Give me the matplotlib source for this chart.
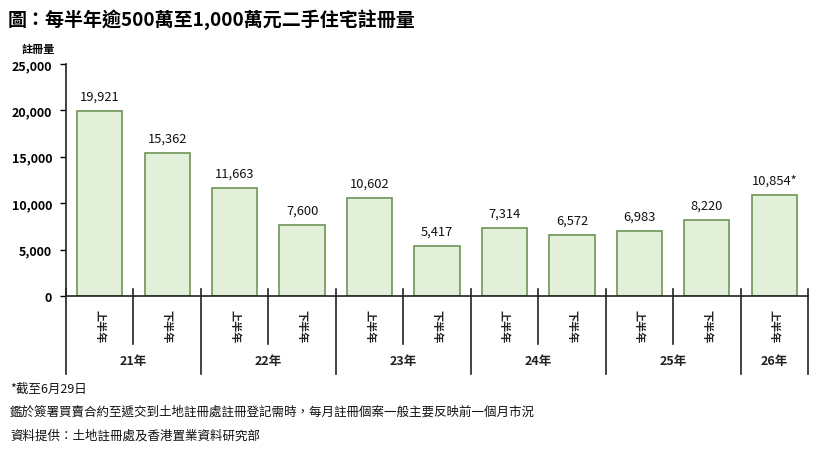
import matplotlib
matplotlib.use("Agg")
import matplotlib.pyplot as plt
import numpy as np

plt.rcParams['font.family'] = ['Noto Sans CJK TC', 'DejaVu Sans']

# data
halves = ['上半年', '下半年', '上半年', '下半年', '上半年', '下半年',
          '上半年', '下半年', '上半年', '下半年', '上半年']
years = ['21年', '22年', '23年', '24年', '25年', '26年']
values = [19921, 15362, 11663, 7600, 10602, 5417, 7314, 6572, 6983, 8220, 10854]
value_labels = ['19,921', '15,362', '11,663', '7,600', '10,602', '5,417',
                '7,314', '6,572', '6,983', '8,220', '10,854*']
yticks = [0, 5000, 10000, 15000, 20000, 25000]

title = '圖：每半年逾500萬至1,000萬元二手住宅註冊量'
notes = ['*截至6月29日',
         '鑑於簽署買賣合約至遞交到土地註冊處註冊登記需時，每月註冊個案一般主要反映前一個月市況',
         '資料提供：土地註冊處及香港置業資料研究部']

fig = plt.figure(figsize=(8.16, 4.52), dpi=100)
ax = fig.add_axes([66 / 816, 1 - 297 / 452, 742 / 816, 232 / 452])

x = np.arange(len(values))
ax.bar(x, values, width=0.67, color='#E2EFD9', edgecolor='#6E9457', linewidth=1.2)
for xi, v, lab in zip(x, values, value_labels):
    ax.text(xi, v + 900, lab, ha='center', va='bottom', fontsize=9.3,
            fontweight='medium', color='#111111')

ax.set_xlim(-0.5, len(values) - 0.5)
ax.set_ylim(0, 25000)
ax.set_yticks(yticks)
ax.set_yticklabels([f'{t:,}' for t in yticks], fontsize=9, fontweight='bold')
ax.tick_params(axis='y', length=4, width=1, pad=6)
ax.set_xticks([])
for s in ['top', 'right']:
    ax.spines[s].set_visible(False)
ax.spines['left'].set_linewidth(1.2)
ax.spines['bottom'].set_linewidth(1.2)
ax.spines['left'].set_color('#222222')
ax.spines['bottom'].set_color('#222222')

trans = ax.get_xaxis_transform()
# half-year labels
for xi, h in zip(x, halves):
    ax.text(xi, -0.13, h, rotation=-90, ha='center', va='center', fontsize=8,
            fontweight='bold', transform=trans, color='#222222')

# separators between halves and years
group_sizes = [2, 2, 2, 2, 2, 1]
start = 0
bounds = [-0.5]
for g in group_sizes:
    start += g
    bounds.append(start - 0.5)
for b in bounds:
    ax.plot([b, b], [0.03, -0.335], transform=trans, color='#222222', lw=1.2, clip_on=False)
pos = -0.5
for g in group_sizes:
    if g == 2:
        ax.plot([pos + 1, pos + 1], [0.03, -0.205], transform=trans, color='#222222',
                lw=1.2, clip_on=False)
    pos += g

# year labels
pos = -0.5
for yr, g in zip(years, group_sizes):
    ax.text(pos + g / 2, -0.28, yr, ha='center', va='center', fontsize=9,
            fontweight='bold', transform=trans, color='#222222')
    pos += g

fig.text(38 / 816, 1 - 49 / 452, '註冊量', ha='center', va='center', fontsize=8,
         fontweight='bold')
fig.text(8 / 816, 1 - 20 / 452, title, ha='left', va='center', fontsize=13.7,
         fontweight='bold')
for i, n in enumerate(notes):
    fig.text(10 / 816, 1 - (389 + 23.5 * i) / 452, n, ha='left', va='center',
             fontsize=9, color='#111111')

fig.savefig('out.png', dpi=100)
